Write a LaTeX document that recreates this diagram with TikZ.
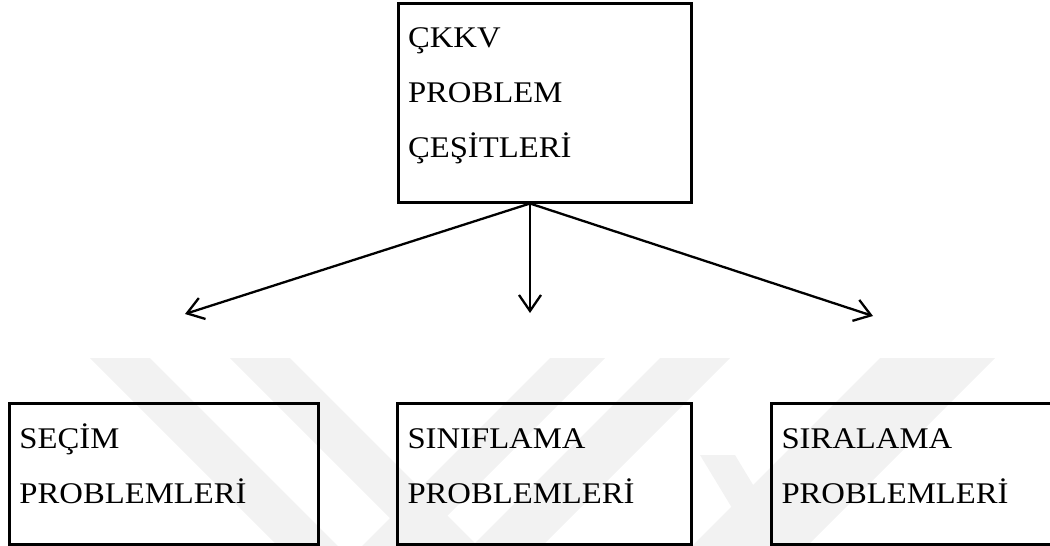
\documentclass[tikz,border=0pt]{standalone}
\usepackage{fontspec}
\setmainfont{Liberation Serif}[FakeStretch=1.09]
\usetikzlibrary{arrows.meta, positioning}
\tikzset{>={Straight Barb[length=16pt, width=22pt]}}
\tikzstyle{problem} = [rectangle, draw = black, line width = 3pt, align = left, inner xsep = 10pt, inner ysep = 0pt, font = \fontsize{30}{55}\selectfont]
\tikzstyle{kindbox} = [problem, text width = 309pt - 20pt, minimum height = 141.5pt, text height = 25pt, text depth = 76.5pt]
\tikzstyle{arrowline} = [->, line width = 2.3pt]
\tikzstyle{watermark} = [fill = black!5]

\begin{document}
\begin{tikzpicture}[x = 1pt, y = -1pt, node distance = 76pt]
    \clip (0,0) rectangle (1050,546);
    % faint watermark bands
    \fill [watermark] (90,358) -- (150,358) -- (352,560) -- (292,560) -- cycle;
    \fill [watermark] (230,358) -- (290,358) -- (492,560) -- (432,560) -- cycle;
    \fill [watermark] (550,358) -- (605,358) -- (403,560) -- (348,560) -- cycle;
    \fill [watermark] (660,358) -- (730,358) -- (528,560) -- (458,560) -- cycle;
    \fill [watermark] (880,358) -- (995,358) -- (793,560) -- (678,560) -- cycle;
    \fill [watermark] (700,455) -- (735,455) -- (790,546) -- (755,546) -- cycle;

    \node (kinds) [problem, text width = 273pt, minimum height = 199pt, text height = 25pt, text depth = 136pt] at (544.5,102.5) {ÇKKV\\PROBLEM\\ÇEŞİTLERİ};
    \node (classify) [kindbox, text width = 274pt, below = 198pt of kinds] {SINIFLAMA\\PROBLEMLERİ};
    \node (choice) [kindbox, left = of classify] {SEÇİM\\PROBLEMLERİ};
    \node (ranking) [kindbox, right = 77pt of classify] {SIRALAMA\\PROBLEMLERİ};

    \coordinate (fork) at ([xshift = -14.5pt]kinds.south);
    \coordinate (toChoice) at (185,314);
    \coordinate (toClassify) at (fork |- 0,313);
    \coordinate (toRanking) at (873,316);
    \draw [arrowline] (fork) -- (toChoice);
    \draw [arrowline] (fork) -- (toClassify);
    \draw [arrowline] (fork) -- (toRanking);
\end{tikzpicture}
\end{document}
